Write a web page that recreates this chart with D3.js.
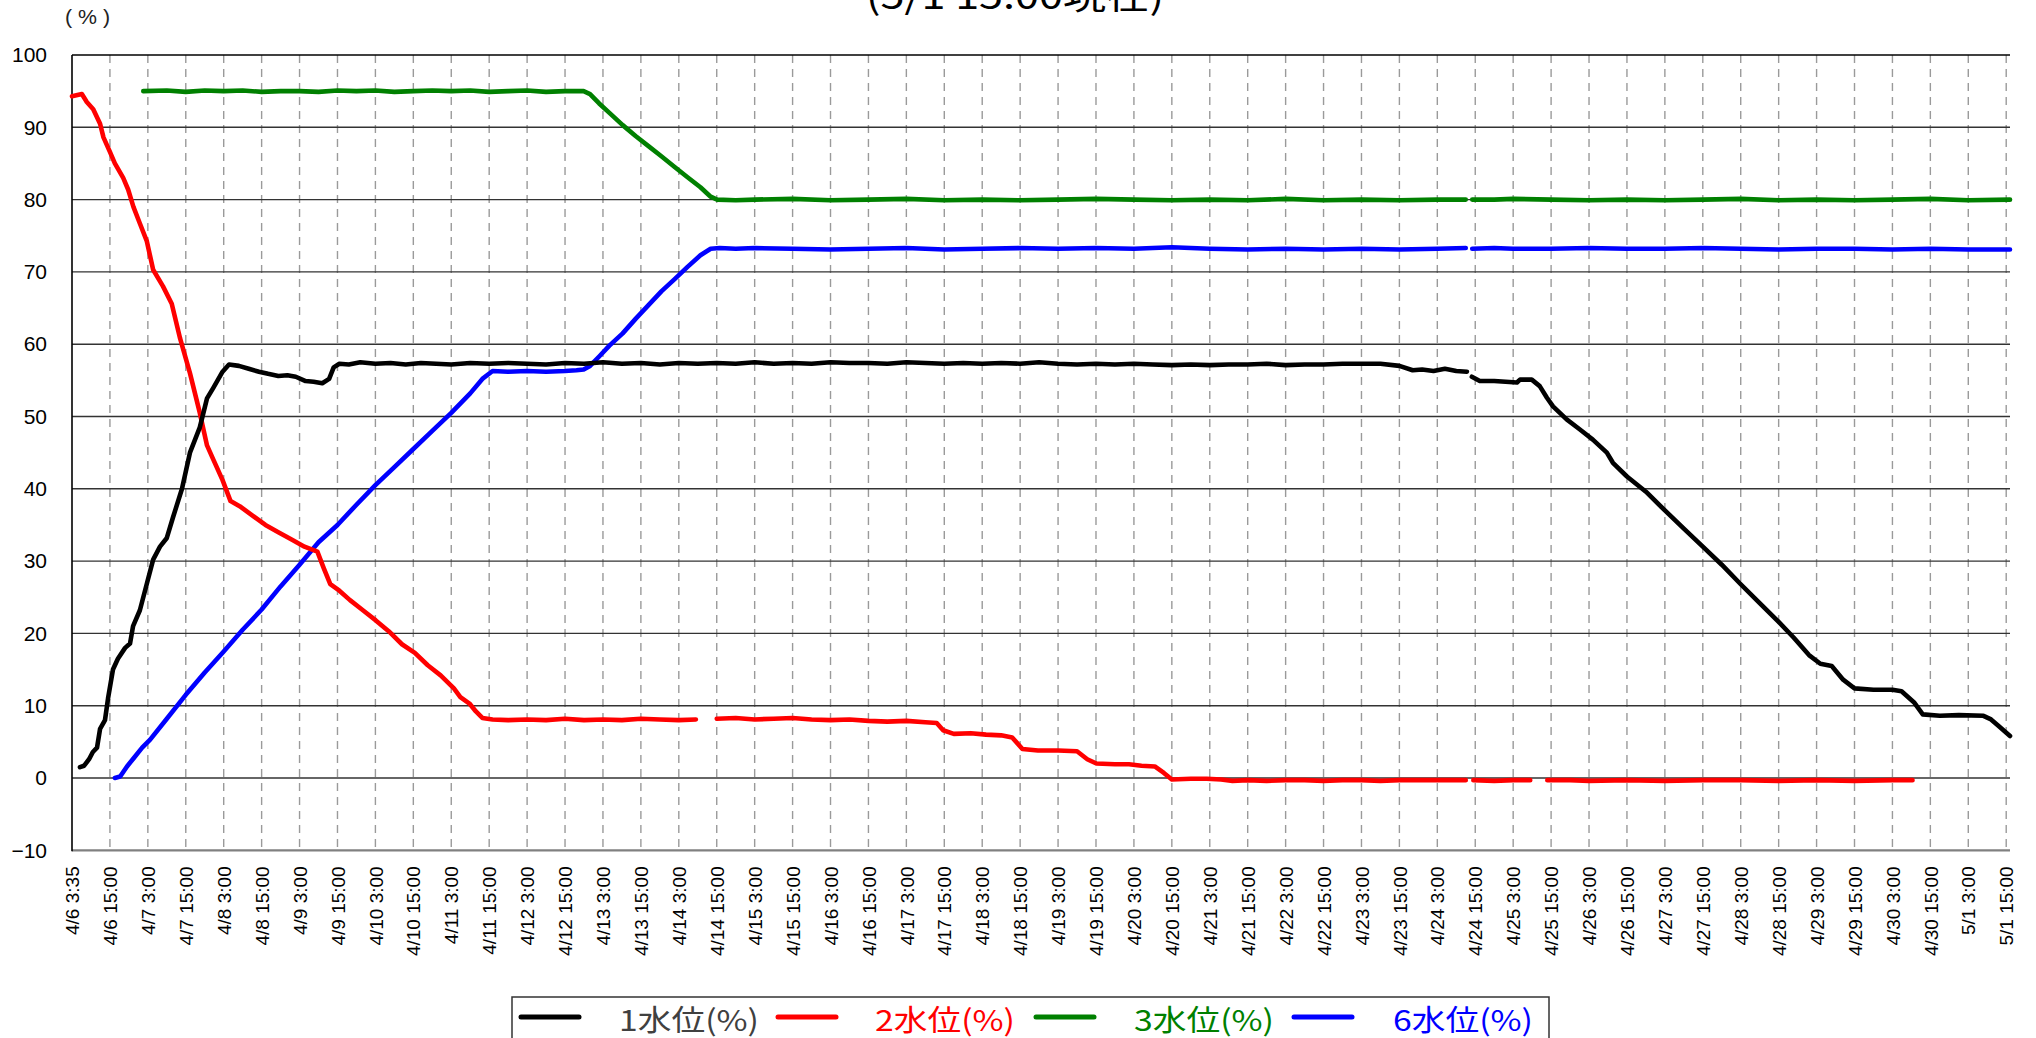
<!DOCTYPE html>
<html>
<head>
<meta charset="utf-8">
<script src="https://cdn.jsdelivr.net/npm/d3@7"></script>
<style>
    body { margin: 0; background: #fff; }
    #chart { width: 2036px; height: 1038px; }
</style>
</head>
<body>
<div id="chart"></div>
<script>

// x positions are in units of the 12 hour label interval (0 = 4/6 3:35)
let tick_labels = [
    "4/6 3:35", "4/6 15:00", "4/7 3:00", "4/7 15:00", "4/8 3:00", "4/8 15:00",
    "4/9 3:00", "4/9 15:00", "4/10 3:00", "4/10 15:00", "4/11 3:00", "4/11 15:00",
    "4/12 3:00", "4/12 15:00", "4/13 3:00", "4/13 15:00", "4/14 3:00", "4/14 15:00",
    "4/15 3:00", "4/15 15:00", "4/16 3:00", "4/16 15:00", "4/17 3:00", "4/17 15:00",
    "4/18 3:00", "4/18 15:00", "4/19 3:00", "4/19 15:00", "4/20 3:00", "4/20 15:00",
    "4/21 3:00", "4/21 15:00", "4/22 3:00", "4/22 15:00", "4/23 3:00", "4/23 15:00",
    "4/24 3:00", "4/24 15:00", "4/25 3:00", "4/25 15:00", "4/26 3:00", "4/26 15:00",
    "4/27 3:00", "4/27 15:00", "4/28 3:00", "4/28 15:00", "4/29 3:00", "4/29 15:00",
    "4/30 3:00", "4/30 15:00", "5/1 3:00", "5/1 15:00"
];

let y_ticks = [-10, 0, 10, 20, 30, 40, 50, 60, 70, 80, 90, 100];

let series_names = ["1水位(%)", "2水位(%)", "3水位(%)", "6水位(%)"];

// null = missing data (gap in the line)
let level_1 = [
    [0.21,1.5],[0.32,1.7],[0.45,2.6],[0.55,3.6],[0.66,4.2],[0.74,6.8],[0.87,8.0],[0.95,11.0],
    [1.08,15.0],[1.21,16.5],[1.40,18.0],[1.53,18.6],[1.61,21.0],[1.79,23.2],[1.98,27.0],[2.14,30.2],
    [2.32,32.0],[2.50,33.2],[2.66,36.0],[2.90,40.0],[3.11,45.0],[3.37,48.5],[3.56,52.5],[3.73,54.0],
    [3.97,56.2],[4.14,57.2],[4.40,57.0],[4.66,56.6],[4.93,56.2],[5.17,55.9],[5.44,55.6],[5.68,55.7],
    [5.90,55.5],[6.16,54.9],[6.37,54.8],[6.60,54.6],[6.78,55.2],[6.90,56.8],[7.05,57.3],[7.3,57.2],
    [7.6,57.5],[8.0,57.3],[8.4,57.4],[8.8,57.2],[9.2,57.4],[9.6,57.3],[10.0,57.2],[10.5,57.4],
    [11.0,57.3],[11.5,57.4],[12.0,57.3],[12.5,57.2],[13.0,57.4],[13.5,57.3],[14.0,57.5],[14.5,57.3],
    [15.0,57.4],[15.5,57.2],[16.0,57.4],[16.5,57.3],[17.0,57.4],[17.5,57.3],[18.0,57.5],[18.5,57.3],
    [19.0,57.4],[19.5,57.3],[20.0,57.5],[20.5,57.4],[21.0,57.4],[21.5,57.3],[22.0,57.5],[22.5,57.4],
    [23.0,57.3],[23.5,57.4],[24.0,57.3],[24.5,57.4],[25.0,57.3],[25.5,57.5],[26.0,57.3],[26.5,57.2],
    [27.0,57.3],[27.5,57.2],[28.0,57.3],[28.5,57.2],[29.0,57.1],[29.5,57.2],[30.0,57.1],[30.5,57.2],
    [31.0,57.2],[31.5,57.3],[32.0,57.1],[32.5,57.2],[33.0,57.2],[33.5,57.3],[34.0,57.3],[34.5,57.3],
    [35.0,57.0],[35.35,56.4],[35.6,56.5],[35.9,56.3],[36.2,56.6],[36.5,56.3],[36.78,56.2],
    null,
    [36.91,55.5],[37.12,54.9],[37.5,54.9],[37.8,54.8],[38.1,54.7],[38.18,55.1],[38.49,55.1],[38.7,54.2],
    [38.89,52.6],[39.05,51.4],[39.41,49.6],[39.76,48.2],[40.1,46.8],[40.47,45.0],[40.63,43.6],[41.0,41.7],
    [41.5,39.6],[42.0,37.0],[42.5,34.5],[43.0,32.0],[43.5,29.5],[44.0,26.8],[44.5,24.2],[45.0,21.6],
    [45.4,19.4],[45.8,17.0],[46.1,15.8],[46.4,15.5],[46.7,13.6],[47.0,12.4],[47.5,12.2],[48.0,12.2],
    [48.24,12.0],[48.58,10.4],[48.8,8.8],[49.25,8.6],[49.75,8.7],[50.4,8.6],[50.6,8.1],[50.8,7.2],[51.1,5.8]
];

let level_2 = [
    [0,94.3],[0.26,94.6],[0.39,93.5],[0.56,92.5],[0.74,90.5],[0.83,88.6],[1.0,86.6],[1.13,85.0],
    [1.35,83.0],[1.48,81.4],[1.62,79.0],[1.79,76.7],[1.97,74.3],[2.14,70.3],[2.4,68.0],[2.63,65.6],
    [2.85,60.8],[3.11,56.0],[3.37,50.5],[3.56,46.0],[3.73,44.0],[3.97,41.2],[4.18,38.3],[4.42,37.6],
    [4.76,36.3],[5.1,35.0],[5.44,34.0],[5.79,33.0],[6.13,32.0],[6.47,31.3],[6.64,29.0],[6.81,26.8],
    [7.05,25.9],[7.33,24.6],[7.67,23.2],[8.01,21.8],[8.35,20.3],[8.7,18.5],[9.04,17.3],[9.38,15.6],
    [9.72,14.2],[10.07,12.4],[10.24,11.2],[10.48,10.3],[10.65,9.2],[10.82,8.3],[11.09,8.1],[11.5,8.0],
    [12.0,8.1],[12.5,8.0],[13.0,8.2],[13.5,8.0],[14.0,8.1],[14.5,8.0],[15.0,8.2],[15.5,8.1],
    [16.0,8.0],[16.45,8.1],
    null,
    [17.0,8.2],[17.5,8.3],[18.0,8.1],[18.5,8.2],[19.0,8.3],[19.5,8.1],[20.0,8.0],[20.5,8.1],
    [21.0,7.9],[21.5,7.8],[22.0,7.9],[22.5,7.7],[22.8,7.6],[22.97,6.6],[23.25,6.1],[23.7,6.2],
    [24.1,6.0],[24.5,5.9],[24.79,5.6],[25.06,4.0],[25.47,3.8],[26.0,3.8],[26.5,3.7],[26.77,2.6],
    [27.01,2.0],[27.5,1.9],[27.87,1.9],[28.2,1.7],[28.55,1.6],[28.79,0.7],[29.0,-0.2],[29.5,-0.1],
    [29.92,-0.1],[30.3,-0.2],[30.6,-0.4],[31.0,-0.3],[31.5,-0.4],[32.0,-0.3],[32.5,-0.3],[33.0,-0.4],
    [33.5,-0.3],[34.0,-0.3],[34.5,-0.4],[35.0,-0.3],[35.5,-0.3],[36.0,-0.3],[36.75,-0.3],
    null,
    [36.95,-0.3],[37.5,-0.4],[38.0,-0.3],[38.45,-0.3],
    null,
    [38.9,-0.3],[39.5,-0.3],[40.0,-0.4],[41.0,-0.3],[42.0,-0.4],[43.0,-0.3],[44.0,-0.3],[45.0,-0.4],
    [46.0,-0.3],[47.0,-0.4],[48.0,-0.3],[48.53,-0.3]
];

let level_3 = [
    [1.88,95.0],[2.5,95.1],[3.0,94.9],[3.5,95.1],[4.0,95.0],[4.5,95.1],[5.0,94.9],[5.5,95.0],
    [6.0,95.0],[6.5,94.9],[7.0,95.1],[7.5,95.0],[8.0,95.1],[8.5,94.9],[9.0,95.0],[9.5,95.1],
    [10.0,95.0],[10.5,95.1],[11.0,94.9],[11.5,95.0],[12.0,95.1],[12.5,94.9],[13.0,95.0],[13.49,95.0],
    [13.66,94.6],[13.9,93.3],[14.17,92.0],[14.52,90.3],[14.86,88.8],[15.2,87.4],[15.54,86.0],[15.89,84.5],
    [16.23,83.1],[16.57,81.7],[16.84,80.4],[17.01,80.0],[17.5,79.9],[18,80.0],[19,80.1],[20,79.9],
    [21,80.0],[22,80.1],[23,79.9],[24,80.0],[25,79.9],[26,80.0],[27,80.1],[28,80.0],
    [29,79.9],[30,80.0],[31,79.9],[32,80.1],[33,79.9],[34,80.0],[35,79.9],[36,80.0],[36.75,80.0],
    null,
    [36.92,80.0],[37.5,80.0],[38,80.1],[39,80.0],[40,79.9],[41,80.0],[42,79.9],[43,80.0],
    [44,80.1],[45,79.9],[46,80.0],[47,79.9],[48,80.0],[49,80.1],[50,79.9],[51.1,80.0]
];

let level_6 = [
    [1.13,0.0],[1.27,0.2],[1.45,1.6],[1.62,2.7],[1.85,4.2],[2.06,5.3],[2.5,8.2],[3.0,11.5],
    [3.5,14.6],[4.0,17.5],[4.5,20.5],[5.0,23.3],[5.5,26.5],[6.0,29.5],[6.5,32.6],[7.0,35.0],
    [7.5,37.8],[8.0,40.5],[8.5,43.0],[9.0,45.5],[9.5,48.0],[10.0,50.5],[10.5,53.2],[10.82,55.2],
    [11.09,56.3],[11.5,56.2],[12.0,56.3],[12.5,56.2],[13.0,56.3],[13.3,56.4],[13.49,56.5],[13.66,57.0],
    [13.9,58.3],[14.17,59.8],[14.52,61.5],[14.86,63.5],[15.2,65.4],[15.54,67.3],[15.89,69.0],[16.23,70.7],
    [16.57,72.3],[16.84,73.2],[17.08,73.3],[17.5,73.2],[18,73.3],[19,73.2],[20,73.1],[21,73.2],
    [22,73.3],[23,73.1],[24,73.2],[25,73.3],[26,73.2],[27,73.3],[28,73.2],[29,73.4],
    [30,73.2],[31,73.1],[32,73.2],[33,73.1],[34,73.2],[35,73.1],[36,73.2],[36.75,73.3],
    null,
    [36.92,73.2],[37.5,73.3],[38,73.2],[39,73.2],[40,73.3],[41,73.2],[42,73.2],[43,73.3],
    [44,73.2],[45,73.1],[46,73.2],[47,73.2],[48,73.1],[49,73.2],[50,73.1],[51.1,73.1]
];

let series_colors = ["#000000", "#ff0000", "#008000", "#0000ff"];
let legend_text_colors = ["#404040", "#ff0000", "#008000", "#0000ff"];

function draw_chart() {

    let margin_left = 72;
    let margin_top = 55;
    let plot_right = 2010;
    let plot_bottom = 850.3;

    let svg = d3.select("#chart")
                .append("svg")
                .attr("width", 2036)
                .attr("height", 1038)
                .style("font-family", "'Liberation Sans', Arial, sans-serif");

    let xScale = d3.scaleLinear()
                    .domain([0, 51.1])
                    .range([margin_left, plot_right]);

    let yScale = d3.scaleLinear()
                    .domain([-10, 100])
                    .range([plot_bottom, margin_top]);

    // title (mostly above the visible area, like the reference)
    svg.append("text")
        .attr("x", 866)
        .attr("y", 9)
        .attr("textLength", 298)
        .attr("lengthAdjust", "spacingAndGlyphs")
        .style("font-family", "'Noto Sans CJK JP', sans-serif")
        .style("font-size", "36px")
        .text("(5/1 15:00現在)");

    svg.append("text")
        .attr("x", 65)
        .attr("y", 24)
        .attr("textLength", 45)
        .attr("lengthAdjust", "spacingAndGlyphs")
        .style("font-size", "21px")
        .attr("fill", "#222")
        .text("( % )");

    // vertical dashed grid
    svg.append("g")
        .selectAll("line")
        .data(d3.range(1, tick_labels.length))
        .enter()
        .append("line")
        .attr("x1", d => xScale(d))
        .attr("x2", d => xScale(d))
        .attr("y1", margin_top)
        .attr("y2", plot_bottom)
        .attr("stroke", "#9a9a9a")
        .attr("stroke-width", 1.4)
        .attr("stroke-dasharray", "8,6");

    // horizontal grid
    svg.append("g")
        .selectAll("line")
        .data(y_ticks.filter(d => d > -10))
        .enter()
        .append("line")
        .attr("x1", margin_left)
        .attr("x2", plot_right)
        .attr("y1", d => yScale(d))
        .attr("y2", d => yScale(d))
        .attr("stroke", d => d == 100 ? "#000" : "#333")
        .attr("stroke-width", 1.4);

    // y axis
    let y_axis = svg.append("g")
        .attr("transform", "translate(" + margin_left + ",0)")
        .call(d3.axisLeft(yScale).tickValues(y_ticks).tickSize(0).tickPadding(25));
    y_axis.select(".domain").remove();
    y_axis.selectAll("text")
        .style("font-size", "21px")
        .style("font-family", "'Liberation Sans', Arial, sans-serif")
        .attr("fill", "#000");

    // x axis
    let x_axis = svg.append("g")
        .attr("transform", "translate(0," + plot_bottom + ")")
        .call(d3.axisBottom(xScale)
                .tickValues(d3.range(tick_labels.length))
                .tickFormat((d, i) => tick_labels[i])
                .tickSize(0));
    x_axis.select(".domain").remove();
    x_axis.selectAll("text")
        .attr("transform", "rotate(-90)")
        .attr("x", -16)
        .attr("y", 0)
        .attr("dy", "0.35em")
        .style("text-anchor", "end")
        .style("font-size", "19px")
        .style("font-family", "'Liberation Sans', Arial, sans-serif")
        .attr("fill", "#000");

    svg.append("line")
        .attr("x1", margin_left)
        .attr("x2", plot_right)
        .attr("y1", plot_bottom)
        .attr("y2", plot_bottom)
        .attr("stroke", "#808080")
        .attr("stroke-width", 2.2);

    svg.append("line")
        .attr("x1", margin_left)
        .attr("x2", margin_left)
        .attr("y1", margin_top)
        .attr("y2", plot_bottom + 1)
        .attr("stroke", "#000")
        .attr("stroke-width", 1.6);

    // data lines
    let line = d3.line()
                .defined(d => d != null)
                .x(d => xScale(d[0]))
                .y(d => yScale(d[1]));

    let all_series = [level_1, level_2, level_3, level_6];

    // draw order: 6 below, then 3, 2, 1 on top
    let order = [3, 2, 1, 0];
    for (let k of order) {
        svg.append("path")
            .datum(all_series[k])
            .attr("d", line)
            .attr("fill", "none")
            .attr("stroke", series_colors[k])
            .attr("stroke-width", 4.6)
            .attr("stroke-linejoin", "round")
            .attr("stroke-linecap", "round");
    }

    // legend (box runs past the bottom edge)
    let legend = svg.append("g");
    legend.append("rect")
        .attr("x", 512)
        .attr("y", 997)
        .attr("width", 1037)
        .attr("height", 70)
        .attr("fill", "#fff")
        .attr("stroke", "#333")
        .attr("stroke-width", 1.5);

    let legend_line_x = [521, 778, 1036, 1294];
    let legend_text_x = [619, 875, 1134, 1393];

    for (let k = 0; k < series_names.length; k++) {
        legend.append("line")
            .attr("x1", legend_line_x[k])
            .attr("x2", legend_line_x[k] + 58)
            .attr("y1", 1017)
            .attr("y2", 1017)
            .attr("stroke", series_colors[k])
            .attr("stroke-width", 5)
            .attr("stroke-linecap", "round");

        legend.append("text")
            .attr("x", legend_text_x[k])
            .attr("y", 1018)
            .attr("dominant-baseline", "central")
            .attr("textLength", 140)
            .attr("lengthAdjust", "spacingAndGlyphs")
            .style("font-family", "'Noto Sans CJK JP', sans-serif")
            .style("font-size", "29px")
            .attr("fill", legend_text_colors[k])
            .text(series_names[k]);
    }
}

draw_chart();

</script>
</body>
</html>
